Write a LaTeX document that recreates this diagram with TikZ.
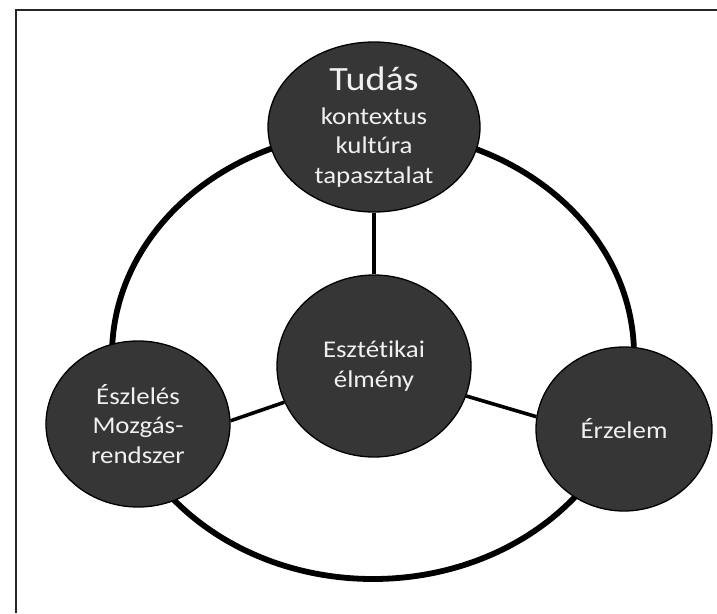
\documentclass[tikz,border=0pt]{standalone}
\usepackage{fontspec}
\setmainfont{Carlito}[FakeStretch=1.12, Ligatures=NoCommon]
\usetikzlibrary{shapes.geometric}
\definecolor{nodefill}{HTML}{363636}
\definecolor{nodetext}{HTML}{F0F0F0}
\tikzset{
  bubble/.style={ellipse, draw=black, line width=1.3pt, fill=nodefill, inner sep=0pt},
  txt/.style={text=nodetext, align=center, font=\fontsize{24}{29.5}\selectfont, inner sep=0pt},
  ring/.style={line width=5.8pt, draw=black},
  spoke/.style={line width=3.6pt, draw=black},
  frame/.style={line width=1.6pt, draw=black!85}
}
\begin{document}
\begin{tikzpicture}[x=1pt, y=-1pt]
\useasboundingbox (0,0) rectangle (717,613);
\draw[frame] (16,613) |- (717,10);
\coordinate (o) at (373,355);
\draw[ring] (o) ellipse [x radius=261, y radius=224];
\node[bubble, minimum width=212pt, minimum height=170pt,
  label={[txt]center:{\fontsize{34}{34}\selectfont Tudás}\\[4pt]kontextus\\kultúra\\tapasztalat}] (t) at (374,127) {};
\node[bubble, minimum width=194pt, minimum height=182pt,
  label={[txt]center:Esztétikai\\élmény}] (c) at (374,366) {};
\node[bubble, minimum width=184pt, minimum height=166pt,
  label={[txt]center:Észlelés\\Mozgás-\\rendszer}] (l) at (138,424) {};
\node[bubble, minimum width=176pt, minimum height=164pt,
  label={[txt]center:Érzelem}] (r) at (624,429) {};
\draw[spoke] (t.south) -- (c.north);
\draw[spoke] (c.202) -- (l.2);
\draw[spoke] (c.-18) -- (r.172);
\end{tikzpicture}
\end{document}
